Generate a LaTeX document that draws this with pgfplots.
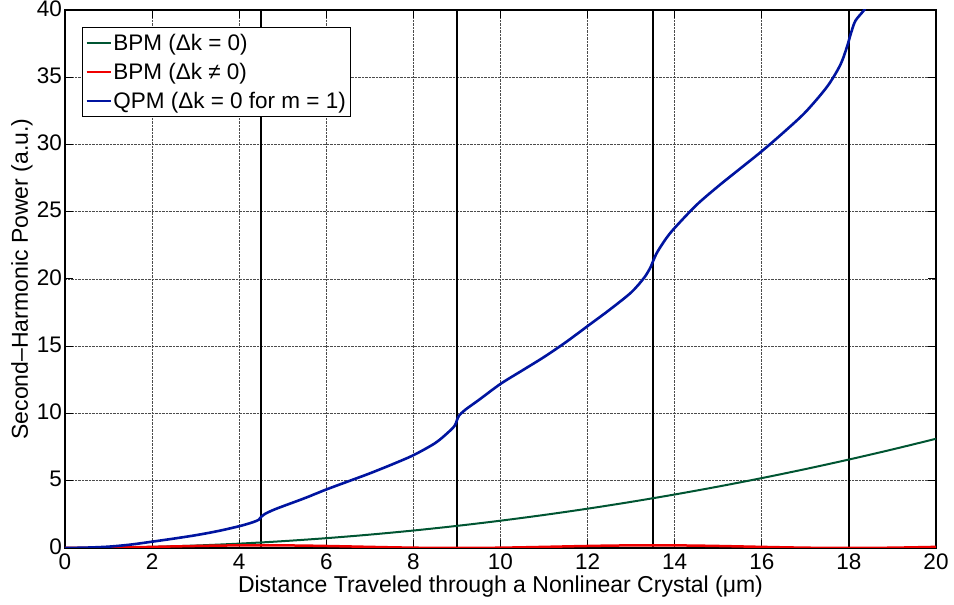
\documentclass[border=0pt]{standalone}
\usepackage{fontspec}
\setmainfont{Liberation Sans}
\usepackage{pgfplots}
\pgfplotsset{compat=1.18}

\definecolor{bpmgreen}{RGB}{0,85,50}
\definecolor{bpmred}{RGB}{240,0,0}
\definecolor{qpmblue}{RGB}{0,20,160}

\begin{document}
\begin{tikzpicture}
\begin{axis}[
  at={(0,0)}, anchor=south west,
  scale only axis, width=871pt, height=538pt,
  xmin=0, xmax=20, ymin=0, ymax=40,
  xtick={0,2,...,20}, ytick={0,5,...,40},
  grid=major,
  major grid style={densely dotted, black!70, line width=0.7pt},
  tick align=inside, major tick length=8pt,
  xtick pos=both, ytick pos=both,
  axis line style={black, line width=1.3pt},
  tick style={black, line width=1pt},
  /pgf/number format/assume math mode=true,
  ticklabel style={font=\fontsize{22.5}{26}\selectfont},
  xticklabel style={inner sep=1pt, yshift=-5pt},
  yticklabel style={inner sep=1pt, xshift=-2pt, yshift=1.5pt},
  label style={font=\fontsize{23}{27}\selectfont},
  xlabel={Distance Traveled through a Nonlinear Crystal (μm)},
  ylabel={Second–Harmonic Power (a.u.)},
  xlabel style={at={(axis description cs:0.5,-0.0836)}, anchor=base},
  ylabel style={at={(axis description cs:-0.0425,0.5)}, anchor=base},
  legend style={at={(rel axis cs:0.0195,0.968)}, anchor=north west,
    draw=black, line width=1.2pt, fill=white,
    font=\fontsize{22.5}{26}\selectfont,
    inner xsep=3pt, inner ysep=5pt, row sep=8pt,
    nodes={inner sep=1.5pt}},
  legend cell align=left,
  legend image code/.code={\draw[#1, line width=2.2pt] (0pt,0pt) -- (24pt,0pt);},
]

% quasi-phase-matching period boundaries
\addplot[black, line width=2pt, forget plot] coordinates {(4.5,0) (4.5,40)};
\addplot[black, line width=2pt, forget plot] coordinates {(9,0) (9,40)};
\addplot[black, line width=2pt, forget plot] coordinates {(13.5,0) (13.5,40)};
\addplot[black, line width=2pt, forget plot] coordinates {(18,0) (18,40)};

% birefringent phase matching, perfect phase match
\addplot[bpmgreen, line width=2pt, smooth] coordinates {
  (0,0) (1,0.0203) (2,0.0812) (3,0.1827) (4,0.3248) (5,0.5075)
  (6,0.7308) (7,0.9947) (8,1.2992) (9,1.6443) (10,2.03) (11,2.4563)
  (12,2.9232) (13,3.4307) (14,3.9788) (15,4.5675) (16,5.1968)
  (17,5.8667) (18,6.5772) (19,7.3283) (20,8.12)
};
\addlegendentry{BPM (Δk = 0)}

% birefringent phase matching, with phase mismatch
\addplot[bpmred, line width=2.5pt, smooth] coordinates {
  (0,0) (0.5,0.006) (1,0.0234) (1.5,0.05) (2,0.0826) (2.5,0.117)
  (3,0.15) (3.5,0.177) (4,0.194) (4.5,0.2) (5,0.194) (5.5,0.177)
  (6,0.15) (6.5,0.117) (7,0.0826) (7.5,0.05) (8,0.0234) (8.5,0.006)
  (9,0) (9.5,0.006) (10,0.0234) (10.5,0.05) (11,0.0826) (11.5,0.117)
  (12,0.15) (12.5,0.177) (13,0.194) (13.5,0.2) (14,0.194) (14.5,0.177)
  (15,0.15) (15.5,0.117) (16,0.0826) (16.5,0.05) (17,0.0234) (17.5,0.006)
  (18,0) (18.5,0.006) (19,0.0234) (19.5,0.05) (20,0.0826)
};
\addlegendentry{BPM (Δk ≠ 0)}

% quasi-phase matching, first order
\addplot[qpmblue, line width=2.6pt, smooth] coordinates {
  (0,0) (0.5,0.03) (1,0.1) (1.5,0.25) (2,0.47) (2.5,0.7) (3,0.95)
  (3.5,1.25) (4,1.62) (4.3,1.9) (4.45,2.1) (4.5,2.3) (4.6,2.55)
  (4.8,2.85) (5,3.1) (5.5,3.7) (6,4.35) (6.5,4.95) (7,5.55) (7.5,6.2)
  (8,6.9) (8.5,7.8) (8.8,8.6) (8.95,9.1) (9.0,9.5) (9.05,9.85)
  (9.2,10.3) (9.5,11.0) (10,12.2) (10.5,13.2) (11,14.2) (11.5,15.3)
  (12,16.5) (12.5,17.7) (13,19.0) (13.3,20.1) (13.45,20.9) (13.5,21.3)
  (13.6,22.0) (13.8,23.0) (14,23.8) (14.5,25.5) (15,26.9) (15.5,28.2)
  (16,29.5) (16.5,30.9) (17,32.4) (17.5,34.3) (17.8,35.9) (17.95,37.2)
  (18.05,38.3) (18.15,39.2) (18.35,40.0) (18.5,40.8)
};
\addlegendentry{QPM (Δk = 0 for m = 1)}

\end{axis}
\pgfresetboundingbox
\path (-65pt,-57pt) rectangle (889pt,548pt);
\end{tikzpicture}
\end{document}
